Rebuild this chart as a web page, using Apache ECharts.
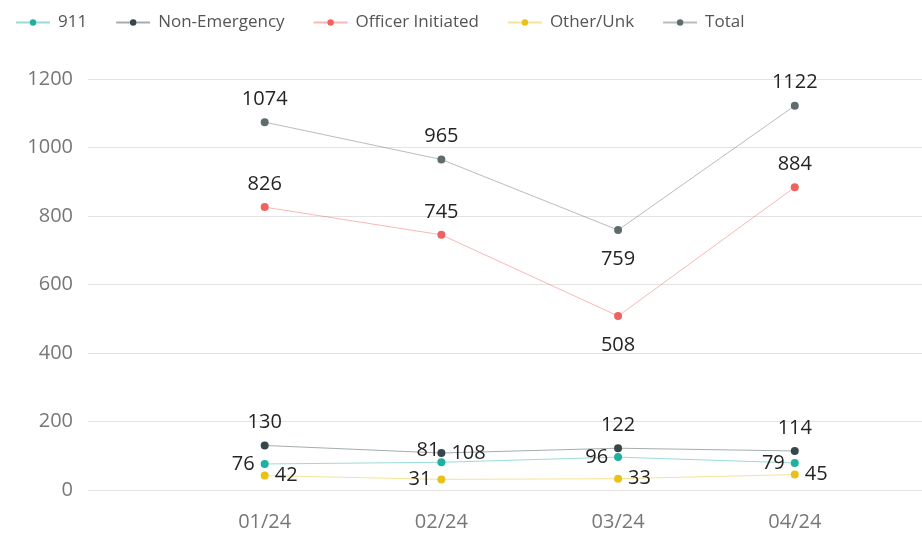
<!DOCTYPE html>
<html>
<head>
<meta charset="utf-8">
<script src="https://cdn.jsdelivr.net/npm/echarts@6/dist/echarts.min.js"></script>
<style>
  html, body { margin: 0; padding: 0; background: #fff; }
  #main { width: 922px; height: 537px; }
</style>
</head>
<body>
<div id="main"></div>
<script>
var months = ['01/24', '02/24', '03/24', '04/24'];
var yTicks = [0, 200, 400, 600, 800, 1000, 1200];
var calls911 = [76, 81, 96, 79];
var nonEmergency = [130, 108, 122, 114];
var officerInit = [826, 745, 508, 884];
var otherUnk = [42, 31, 33, 45];
var total = [1074, 965, 759, 1122];

var myChart = echarts.init(document.getElementById('main'));

// build [x, y] points, positions for labels per point
function pts(vals, pos) {
  return vals.map(function (v, i) {
    var d = pos[i] === 'bottom' ? 15 : (pos[i] === 'top' ? 9 : 6);
    return { value: [i, v], label: { position: pos[i], distance: d } };
  });
}

function line(name, color, vals, pos) {
  return {
    name: name,
    type: 'line',
    data: pts(vals, pos),
    symbol: 'circle',
    symbolSize: 8,
    itemStyle: { color: color },
    lineStyle: { color: color, width: 1, opacity: 0.45 },
    label: {
      show: true,
      color: '#252423',
      fontSize: 20,
      fontFamily: 'Open Sans',
      formatter: function (p) { return p.value[1]; }
    },
    emphasis: { disabled: true }
  };
}

myChart.setOption({
  animation: false,
  legend: {
    left: 10,
    top: 9,
    itemWidth: 34,
    itemHeight: 8,
    itemGap: 28,
    textStyle: { color: '#555', fontSize: 17, fontFamily: 'Open Sans', padding: [0, 0, 0, 3] },
    data: ['911', 'Non-Emergency', 'Officer Initiated', 'Other/Unk', 'Total']
  },
  grid: { left: 88, right: 0, top: 79, bottom: 47 },
  xAxis: {
    type: 'value',
    min: -1,
    max: 3.72,
    interval: 1,
    splitLine: { show: false },
    axisLine: { show: false },
    axisTick: { show: false },
    axisLabel: {
      color: '#777',
      fontSize: 20,
      fontFamily: 'Open Sans',
      margin: 22,
      showMaxLabel: false,
      formatter: function (v) {
        return (v >= 0 && Number.isInteger(v)) ? months[v] : '';
      }
    }
  },
  yAxis: {
    type: 'value',
    min: yTicks[0],
    max: yTicks[yTicks.length - 1],
    interval: 200,
    axisLine: { show: false },
    axisTick: { show: false },
    splitLine: { lineStyle: { color: '#e3e3e3', width: 1 } },
    axisLabel: {
      color: '#777', fontSize: 20, fontFamily: 'Open Sans', margin: 15,
      formatter: function (v) { return String(v); }
    }
  },
  series: [
    line('911', '#1fb0a0', calls911, ['left', 'insideBottomRight', 'left', 'left']),
    line('Non-Emergency', '#374649', nonEmergency, ['top', 'right', 'top', 'top']),
    line('Officer Initiated', '#f0625e', officerInit, ['top', 'top', 'bottom', 'top']),
    line('Other/Unk', '#e8c21a', otherUnk, ['right', 'left', 'right', 'right']),
    line('Total', '#5f6b6d', total, ['top', 'top', 'bottom', 'top'])
  ]
});
</script>
</body>
</html>
